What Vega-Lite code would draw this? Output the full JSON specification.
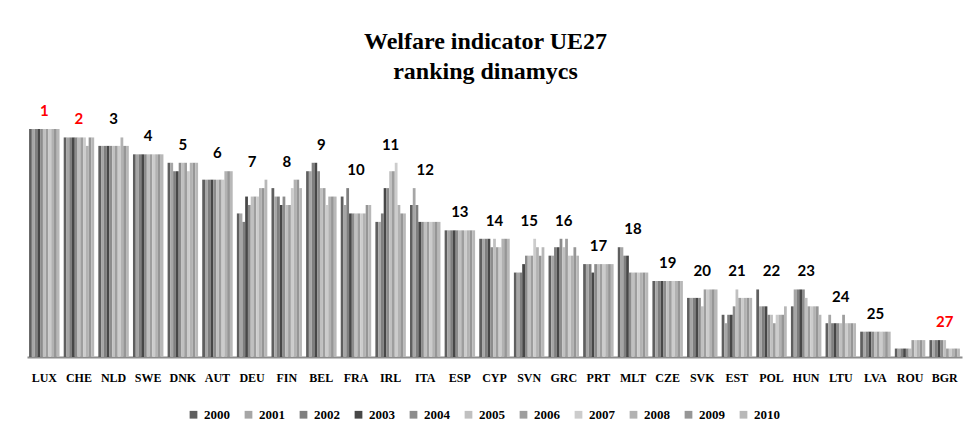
{
"$schema": "https://vega.github.io/schema/vega-lite/v6.json",
"width": 935, "height": 228,
"autosize": "none",
"padding": {"left": 27, "top": 129, "right": 9, "bottom": 83},
"background": "white",
"title": {"text": ["Welfare indicator UE27", "ranking dinamycs"], "font": "Liberation Serif", "fontSize": 24, "fontWeight": "bold", "lineHeight": 30, "color": "black", "anchor": "middle", "offset": 20, "dx": -9},
"config": {"view": {"stroke": null}},
"datasets": {
"ranks": [
{"c":"LUX","yr":"2000","r":1},{"c":"LUX","yr":"2001","r":1},{"c":"LUX","yr":"2002","r":1},{"c":"LUX","yr":"2003","r":1},{"c":"LUX","yr":"2004","r":1},{"c":"LUX","yr":"2005","r":1},{"c":"LUX","yr":"2006","r":1},{"c":"LUX","yr":"2007","r":1},{"c":"LUX","yr":"2008","r":1},{"c":"LUX","yr":"2009","r":1},{"c":"LUX","yr":"2010","r":1},
{"c":"CHE","yr":"2000","r":2},{"c":"CHE","yr":"2001","r":2},{"c":"CHE","yr":"2002","r":2},{"c":"CHE","yr":"2003","r":2},{"c":"CHE","yr":"2004","r":2},{"c":"CHE","yr":"2005","r":2},{"c":"CHE","yr":"2006","r":2},{"c":"CHE","yr":"2007","r":2},{"c":"CHE","yr":"2008","r":3},{"c":"CHE","yr":"2009","r":2},{"c":"CHE","yr":"2010","r":2},
{"c":"NLD","yr":"2000","r":3},{"c":"NLD","yr":"2001","r":3},{"c":"NLD","yr":"2002","r":3},{"c":"NLD","yr":"2003","r":3},{"c":"NLD","yr":"2004","r":3},{"c":"NLD","yr":"2005","r":3},{"c":"NLD","yr":"2006","r":3},{"c":"NLD","yr":"2007","r":3},{"c":"NLD","yr":"2008","r":2},{"c":"NLD","yr":"2009","r":3},{"c":"NLD","yr":"2010","r":3},
{"c":"SWE","yr":"2000","r":4},{"c":"SWE","yr":"2001","r":4},{"c":"SWE","yr":"2002","r":4},{"c":"SWE","yr":"2003","r":4},{"c":"SWE","yr":"2004","r":4},{"c":"SWE","yr":"2005","r":4},{"c":"SWE","yr":"2006","r":4},{"c":"SWE","yr":"2007","r":4},{"c":"SWE","yr":"2008","r":4},{"c":"SWE","yr":"2009","r":4},{"c":"SWE","yr":"2010","r":4},
{"c":"DNK","yr":"2000","r":5},{"c":"DNK","yr":"2001","r":5},{"c":"DNK","yr":"2002","r":6},{"c":"DNK","yr":"2003","r":6},{"c":"DNK","yr":"2004","r":5},{"c":"DNK","yr":"2005","r":5},{"c":"DNK","yr":"2006","r":5},{"c":"DNK","yr":"2007","r":6},{"c":"DNK","yr":"2008","r":5},{"c":"DNK","yr":"2009","r":5},{"c":"DNK","yr":"2010","r":5},
{"c":"AUT","yr":"2000","r":7},{"c":"AUT","yr":"2001","r":7},{"c":"AUT","yr":"2002","r":7},{"c":"AUT","yr":"2003","r":7},{"c":"AUT","yr":"2004","r":7},{"c":"AUT","yr":"2005","r":7},{"c":"AUT","yr":"2006","r":7},{"c":"AUT","yr":"2007","r":7},{"c":"AUT","yr":"2008","r":6},{"c":"AUT","yr":"2009","r":6},{"c":"AUT","yr":"2010","r":6},
{"c":"DEU","yr":"2000","r":11},{"c":"DEU","yr":"2001","r":11},{"c":"DEU","yr":"2002","r":12},{"c":"DEU","yr":"2003","r":9},{"c":"DEU","yr":"2004","r":10},{"c":"DEU","yr":"2005","r":9},{"c":"DEU","yr":"2006","r":9},{"c":"DEU","yr":"2007","r":9},{"c":"DEU","yr":"2008","r":8},{"c":"DEU","yr":"2009","r":8},{"c":"DEU","yr":"2010","r":7},
{"c":"FIN","yr":"2000","r":8},{"c":"FIN","yr":"2001","r":9},{"c":"FIN","yr":"2002","r":9},{"c":"FIN","yr":"2003","r":10},{"c":"FIN","yr":"2004","r":9},{"c":"FIN","yr":"2005","r":10},{"c":"FIN","yr":"2006","r":10},{"c":"FIN","yr":"2007","r":8},{"c":"FIN","yr":"2008","r":7},{"c":"FIN","yr":"2009","r":7},{"c":"FIN","yr":"2010","r":8},
{"c":"BEL","yr":"2000","r":6},{"c":"BEL","yr":"2001","r":6},{"c":"BEL","yr":"2002","r":5},{"c":"BEL","yr":"2003","r":5},{"c":"BEL","yr":"2004","r":6},{"c":"BEL","yr":"2005","r":8},{"c":"BEL","yr":"2006","r":8},{"c":"BEL","yr":"2007","r":10},{"c":"BEL","yr":"2008","r":9},{"c":"BEL","yr":"2009","r":9},{"c":"BEL","yr":"2010","r":9},
{"c":"FRA","yr":"2000","r":9},{"c":"FRA","yr":"2001","r":10},{"c":"FRA","yr":"2002","r":8},{"c":"FRA","yr":"2003","r":11},{"c":"FRA","yr":"2004","r":11},{"c":"FRA","yr":"2005","r":11},{"c":"FRA","yr":"2006","r":11},{"c":"FRA","yr":"2007","r":11},{"c":"FRA","yr":"2008","r":11},{"c":"FRA","yr":"2009","r":10},{"c":"FRA","yr":"2010","r":10},
{"c":"IRL","yr":"2000","r":12},{"c":"IRL","yr":"2001","r":12},{"c":"IRL","yr":"2002","r":11},{"c":"IRL","yr":"2003","r":8},{"c":"IRL","yr":"2004","r":8},{"c":"IRL","yr":"2005","r":6},{"c":"IRL","yr":"2006","r":6},{"c":"IRL","yr":"2007","r":5},{"c":"IRL","yr":"2008","r":10},{"c":"IRL","yr":"2009","r":11},{"c":"IRL","yr":"2010","r":11},
{"c":"ITA","yr":"2000","r":10},{"c":"ITA","yr":"2001","r":8},{"c":"ITA","yr":"2002","r":10},{"c":"ITA","yr":"2003","r":12},{"c":"ITA","yr":"2004","r":12},{"c":"ITA","yr":"2005","r":12},{"c":"ITA","yr":"2006","r":12},{"c":"ITA","yr":"2007","r":12},{"c":"ITA","yr":"2008","r":12},{"c":"ITA","yr":"2009","r":12},{"c":"ITA","yr":"2010","r":12},
{"c":"ESP","yr":"2000","r":13},{"c":"ESP","yr":"2001","r":13},{"c":"ESP","yr":"2002","r":13},{"c":"ESP","yr":"2003","r":13},{"c":"ESP","yr":"2004","r":13},{"c":"ESP","yr":"2005","r":13},{"c":"ESP","yr":"2006","r":13},{"c":"ESP","yr":"2007","r":13},{"c":"ESP","yr":"2008","r":13},{"c":"ESP","yr":"2009","r":13},{"c":"ESP","yr":"2010","r":13},
{"c":"CYP","yr":"2000","r":14},{"c":"CYP","yr":"2001","r":14},{"c":"CYP","yr":"2002","r":14},{"c":"CYP","yr":"2003","r":14},{"c":"CYP","yr":"2004","r":15},{"c":"CYP","yr":"2005","r":14},{"c":"CYP","yr":"2006","r":15},{"c":"CYP","yr":"2007","r":15},{"c":"CYP","yr":"2008","r":14},{"c":"CYP","yr":"2009","r":14},{"c":"CYP","yr":"2010","r":14},
{"c":"SVN","yr":"2000","r":18},{"c":"SVN","yr":"2001","r":18},{"c":"SVN","yr":"2002","r":18},{"c":"SVN","yr":"2003","r":17},{"c":"SVN","yr":"2004","r":16},{"c":"SVN","yr":"2005","r":16},{"c":"SVN","yr":"2006","r":16},{"c":"SVN","yr":"2007","r":14},{"c":"SVN","yr":"2008","r":15},{"c":"SVN","yr":"2009","r":16},{"c":"SVN","yr":"2010","r":15},
{"c":"GRC","yr":"2000","r":16},{"c":"GRC","yr":"2001","r":16},{"c":"GRC","yr":"2002","r":15},{"c":"GRC","yr":"2003","r":15},{"c":"GRC","yr":"2004","r":14},{"c":"GRC","yr":"2005","r":15},{"c":"GRC","yr":"2006","r":14},{"c":"GRC","yr":"2007","r":16},{"c":"GRC","yr":"2008","r":16},{"c":"GRC","yr":"2009","r":15},{"c":"GRC","yr":"2010","r":16},
{"c":"PRT","yr":"2000","r":17},{"c":"PRT","yr":"2001","r":17},{"c":"PRT","yr":"2002","r":17},{"c":"PRT","yr":"2003","r":18},{"c":"PRT","yr":"2004","r":17},{"c":"PRT","yr":"2005","r":17},{"c":"PRT","yr":"2006","r":17},{"c":"PRT","yr":"2007","r":17},{"c":"PRT","yr":"2008","r":17},{"c":"PRT","yr":"2009","r":17},{"c":"PRT","yr":"2010","r":17},
{"c":"MLT","yr":"2000","r":15},{"c":"MLT","yr":"2001","r":15},{"c":"MLT","yr":"2002","r":16},{"c":"MLT","yr":"2003","r":16},{"c":"MLT","yr":"2004","r":18},{"c":"MLT","yr":"2005","r":18},{"c":"MLT","yr":"2006","r":18},{"c":"MLT","yr":"2007","r":18},{"c":"MLT","yr":"2008","r":18},{"c":"MLT","yr":"2009","r":18},{"c":"MLT","yr":"2010","r":18},
{"c":"CZE","yr":"2000","r":19},{"c":"CZE","yr":"2001","r":19},{"c":"CZE","yr":"2002","r":19},{"c":"CZE","yr":"2003","r":19},{"c":"CZE","yr":"2004","r":19},{"c":"CZE","yr":"2005","r":19},{"c":"CZE","yr":"2006","r":19},{"c":"CZE","yr":"2007","r":19},{"c":"CZE","yr":"2008","r":19},{"c":"CZE","yr":"2009","r":19},{"c":"CZE","yr":"2010","r":19},
{"c":"SVK","yr":"2000","r":21},{"c":"SVK","yr":"2001","r":21},{"c":"SVK","yr":"2002","r":21},{"c":"SVK","yr":"2003","r":21},{"c":"SVK","yr":"2004","r":21},{"c":"SVK","yr":"2005","r":22},{"c":"SVK","yr":"2006","r":20},{"c":"SVK","yr":"2007","r":20},{"c":"SVK","yr":"2008","r":20},{"c":"SVK","yr":"2009","r":20},{"c":"SVK","yr":"2010","r":20},
{"c":"EST","yr":"2000","r":23},{"c":"EST","yr":"2001","r":24},{"c":"EST","yr":"2002","r":23},{"c":"EST","yr":"2003","r":23},{"c":"EST","yr":"2004","r":22},{"c":"EST","yr":"2005","r":20},{"c":"EST","yr":"2006","r":21},{"c":"EST","yr":"2007","r":21},{"c":"EST","yr":"2008","r":21},{"c":"EST","yr":"2009","r":21},{"c":"EST","yr":"2010","r":21},
{"c":"POL","yr":"2000","r":20},{"c":"POL","yr":"2001","r":22},{"c":"POL","yr":"2002","r":22},{"c":"POL","yr":"2003","r":22},{"c":"POL","yr":"2004","r":23},{"c":"POL","yr":"2005","r":23},{"c":"POL","yr":"2006","r":24},{"c":"POL","yr":"2007","r":23},{"c":"POL","yr":"2008","r":23},{"c":"POL","yr":"2009","r":23},{"c":"POL","yr":"2010","r":22},
{"c":"HUN","yr":"2000","r":22},{"c":"HUN","yr":"2001","r":20},{"c":"HUN","yr":"2002","r":20},{"c":"HUN","yr":"2003","r":20},{"c":"HUN","yr":"2004","r":20},{"c":"HUN","yr":"2005","r":21},{"c":"HUN","yr":"2006","r":22},{"c":"HUN","yr":"2007","r":22},{"c":"HUN","yr":"2008","r":22},{"c":"HUN","yr":"2009","r":22},{"c":"HUN","yr":"2010","r":23},
{"c":"LTU","yr":"2000","r":24},{"c":"LTU","yr":"2001","r":23},{"c":"LTU","yr":"2002","r":24},{"c":"LTU","yr":"2003","r":24},{"c":"LTU","yr":"2004","r":24},{"c":"LTU","yr":"2005","r":24},{"c":"LTU","yr":"2006","r":23},{"c":"LTU","yr":"2007","r":24},{"c":"LTU","yr":"2008","r":24},{"c":"LTU","yr":"2009","r":24},{"c":"LTU","yr":"2010","r":24},
{"c":"LVA","yr":"2000","r":25},{"c":"LVA","yr":"2001","r":25},{"c":"LVA","yr":"2002","r":25},{"c":"LVA","yr":"2003","r":25},{"c":"LVA","yr":"2004","r":25},{"c":"LVA","yr":"2005","r":25},{"c":"LVA","yr":"2006","r":25},{"c":"LVA","yr":"2007","r":25},{"c":"LVA","yr":"2008","r":25},{"c":"LVA","yr":"2009","r":25},{"c":"LVA","yr":"2010","r":25},
{"c":"ROU","yr":"2000","r":27},{"c":"ROU","yr":"2001","r":27},{"c":"ROU","yr":"2002","r":27},{"c":"ROU","yr":"2003","r":27},{"c":"ROU","yr":"2004","r":27},{"c":"ROU","yr":"2005","r":27},{"c":"ROU","yr":"2006","r":26},{"c":"ROU","yr":"2007","r":26},{"c":"ROU","yr":"2008","r":26},{"c":"ROU","yr":"2009","r":26},{"c":"ROU","yr":"2010","r":26},
{"c":"BGR","yr":"2000","r":26},{"c":"BGR","yr":"2001","r":26},{"c":"BGR","yr":"2002","r":26},{"c":"BGR","yr":"2003","r":26},{"c":"BGR","yr":"2004","r":26},{"c":"BGR","yr":"2005","r":26},{"c":"BGR","yr":"2006","r":27},{"c":"BGR","yr":"2007","r":27},{"c":"BGR","yr":"2008","r":27},{"c":"BGR","yr":"2009","r":27},{"c":"BGR","yr":"2010","r":27}
]
},
"data": {"name": "ranks"},
"encoding": {
  "x": {"field": "c", "type": "nominal", "sort": null,
    "scale": {"paddingInner": 0.12, "paddingOuter": 0.06},
    "axis": {"title": null, "labelAngle": 0, "ticks": false, "domainColor": "#8c8c8c", "domainWidth": 2,
      "labelFont": "Liberation Serif", "labelFontWeight": "bold", "labelFontSize": 12, "labelColor": "black", "labelPadding": 15}}
},
"layer": [
  {"mark": {"type": "bar", "strokeWidth": 0},
   "encoding": {
     "xOffset": {"field": "yr", "type": "nominal", "scale": {"paddingInner": 0, "paddingOuter": 0}},
     "y": {"field": "r", "type": "quantitative", "scale": {"domain": [28, 1], "nice": false, "zero": false}, "axis": null},
     "y2": {"datum": 28},
     "color": {"field": "yr", "type": "nominal",
       "scale": {"domain": ["2000","2001","2002","2003","2004","2005","2006","2007","2008","2009","2010"],
                 "range": ["#5f5f5f","#a6a6a6","#7f7f7f","#474747","#8c8c8c","#c0c0c0","#9e9e9e","#cccccc","#b2b2b2","#969696","#b8b8b8"]},
       "legend": {"orient": "none", "legendX": 160, "legendY": 279, "direction": "horizontal", "title": null, "symbolType": "square", "symbolSize": 60, "symbolStrokeWidth": 0,
         "labelFont": "Liberation Serif", "labelFontWeight": "bold", "labelFontSize": 13, "labelColor": "black", "columnPadding": 12, "labelOffset": 4}}
   }},
  {"transform": [
     {"joinaggregate": [{"op": "min", "field": "r", "as": "best"}], "groupby": ["c"]},
     {"filter": "datum.yr == '2010' && datum.c != 'ROU'"}],
   "mark": {"type": "text", "font": "Lato", "fontWeight": "bold", "fontSize": 15, "baseline": "middle", "dy": -18},
   "encoding": {
     "y": {"field": "best", "type": "quantitative"},
     "text": {"field": "r", "type": "quantitative"},
     "color": {"condition": {"test": "datum.r <= 2 || datum.r == 27", "value": "#ff0000"}, "value": "black"}
   }}
]
}
